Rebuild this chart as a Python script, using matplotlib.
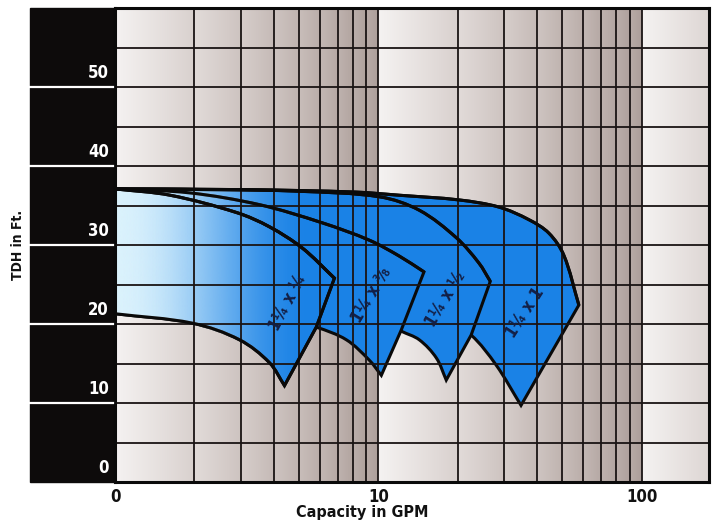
import numpy as np
import matplotlib
matplotlib.use('Agg')
import matplotlib.pyplot as plt
from matplotlib.path import Path
from matplotlib.patches import PathPatch, Rectangle
from matplotlib.lines import Line2D
from matplotlib.ticker import LogLocator, MultipleLocator, NullFormatter
from matplotlib.transforms import blended_transform_factory

# pump models, left to right
models = ['1¼ x ¼', '1¼ x ⅜', '1¼ x ½', '1¼ x 1']

# max impeller curves: capacity (GPM) and head (ft), shutoff -> run-out tip
upper_gpm = [
    [1, 1.62, 2.90, 3.86, 5.15, 6.81],
    [1, 1.92, 3.54, 6.13, 9.25, 12.0, 14.9],
    [1, 2.4, 5.02, 10.1, 14.3, 19.8, 24.1, 26.6],
    [1, 3.25, 8.18, 12.0, 20.3, 28.7, 37.3, 44.4, 50.6, 57.7],
]
upper_ft = [
    [37.1, 36.3, 34.1, 32.3, 29.6, 25.8],
    [37.1, 36.6, 35.1, 32.8, 30.6, 28.6, 26.6],
    [37.1, 37.0, 36.8, 36.1, 34.4, 30.9, 27.7, 25.4],
    [37.1, 37.0, 36.7, 36.3, 35.7, 34.8, 33.2, 31.5, 28.7, 22.4],
]
# kink on the end-of-curve line (None = straight)
kink_gpm = [5.81, 12.2, 22.5, None]
kink_ft = [19.6, 19.2, 18.6, None]
# min impeller curves: bottom point back to shutoff
lower_gpm = [
    [4.40, 3.86, 2.97, 1.97, 1],
    [10.26, 9.25, 7.56, 5.81, 3.25, 1],
    [18.1, 16.6, 14.3, 12.2, 8.5, 3.25, 1],
    [34.8, 28.0, 22.5, 15.6, 5.0, 1],
]
lower_ft = [
    [12.2, 15.1, 18.0, 20.1, 21.3],
    [13.5, 15.4, 18.0, 19.6, 22.0, 23.3],
    [12.9, 15.7, 18.0, 19.1, 21.8, 24.1, 25.3],
    [9.7, 14.8, 18.6, 22.4, 26.2, 27.8],
]
# model label positions / angles
label_gpm = [4.52, 9.41, 17.9, 36.0]
label_ft = [22.7, 23.7, 23.2, 21.4]
label_rot = [62, 59, 59, 57]

y_ticks = [0, 10, 20, 30, 40, 50]
x_ticks = [1, 10, 100]
x_ticklabels = ['0', '10', '100']
X_MAX = 180

BLUE = '#1a82e6'
PX_DEC, PX_FT = 264.0, 7.9


def to_px(xs, ys):
    return np.column_stack([np.log10(xs) * PX_DEC, np.asarray(ys, float) * PX_FT])


def from_px(p):
    return np.column_stack([10 ** (p[:, 0] / PX_DEC), p[:, 1] / PX_FT])


def smooth(xs, ys):
    # bezier pieces through the read points (tangent from neighbours)
    p = to_px(xs, ys)
    n = len(p)
    tang = np.zeros_like(p)
    for i in range(n):
        d = p[min(i + 1, n - 1)] - p[max(i - 1, 0)]
        tang[i] = d / np.hypot(*d)
    verts = []
    for i in range(n - 1):
        seg = np.hypot(*(p[i + 1] - p[i])) / 3
        verts += [p[i] + tang[i] * seg, p[i + 1] - tang[i + 1] * seg, p[i + 1]]
    return from_px(np.array(verts))


def curve_path(xs, ys):
    v = np.vstack([[xs[0], ys[0]], smooth(xs, ys)])
    codes = [Path.MOVETO] + [Path.CURVE4] * (len(v) - 1)
    return Path(v, codes)


def region_path(i):
    up = smooth(upper_gpm[i], upper_ft[i])
    lo = smooth(lower_gpm[i], lower_ft[i])
    verts = [[upper_gpm[i][0], upper_ft[i][0]]]
    codes = [Path.MOVETO]
    verts += list(up)
    codes += [Path.CURVE4] * len(up)
    if kink_gpm[i] is not None:
        verts.append([kink_gpm[i], kink_ft[i]])
        codes.append(Path.LINETO)
    verts.append([lower_gpm[i][0], lower_ft[i][0]])
    codes.append(Path.LINETO)
    verts += list(lo)
    codes += [Path.CURVE4] * len(lo)
    verts.append(verts[0])
    codes.append(Path.CLOSEPOLY)
    return Path(np.array(verts), codes)


fig = plt.figure(figsize=(7.16, 5.27), dpi=100)
ax = fig.add_axes([115 / 716, 45 / 527, 594 / 716, 474 / 527])
ax.set_xscale('log')
ax.set_xlim(1, X_MAX)
ax.set_ylim(0, 60)
ax.set_autoscale_on(False)

# shaded paper background
N = 1400
f = (np.arange(N) + 0.5) / N
lx = f * np.log10(X_MAX)
u = lx % 1
m = 10 ** u
t = m - np.floor(m)
v = 0.96 - 0.25 * u - 0.035 * t
bg = np.stack([v, v * (1 - 0.25 * (1 - v)), v * (1 - 0.33 * (1 - v))], -1)[None]
ax.imshow(bg, extent=(0, 1, 0, 1), transform=ax.transAxes, aspect='auto',
          interpolation='nearest', zorder=0)

# blue regions, back to front
for i in range(len(models) - 1, -1, -1):
    ax.add_patch(PathPatch(region_path(i), facecolor=BLUE, edgecolor='#0a0a0a',
                           lw=2.2, zorder=1 + (3 - i) * 0.1))

# light gradient over the left of the chart
clip_v = [[1, upper_ft[3][0]], [upper_gpm[0][-1], 36.9]]
clip_v += [[upper_gpm[0][-1], upper_ft[0][-1]], [kink_gpm[0], kink_ft[0]]]
clip_v += list(zip(lower_gpm[0], lower_ft[0]))
clip_patch = PathPatch(Path(np.array(clip_v + [clip_v[0]]), closed=True),
                       transform=ax.transData)
px = f * 594
alpha = np.where(px < 200, 0.5 * (1 + np.cos(np.pi * np.minimum(px, 200) / 200)), 0)
light = matplotlib.colors.to_rgb('#dcf3fd')
grad = np.zeros((1, N, 4))
grad[..., :3] = light
grad[..., 3] = alpha
gi = ax.imshow(grad, extent=(0, 1, 0, 1), transform=ax.transAxes, aspect='auto',
               interpolation='bilinear', zorder=1.5)
gi.set_clip_path(clip_patch)

# outlines again on top of the gradient
ax.add_patch(PathPatch(region_path(0), facecolor='none', edgecolor='#0a0a0a',
                       lw=2.2, zorder=3))
for i in range(len(models)):
    ax.add_patch(PathPatch(curve_path(upper_gpm[i], upper_ft[i]), facecolor='none',
                           edgecolor='#0a0a0a', lw=2.2, zorder=3))

for i, name in enumerate(models):
    ax.text(label_gpm[i], label_ft[i], name, rotation=label_rot[i], ha='center',
            va='center', fontsize=12, fontweight='bold', color='#131f45', zorder=4,
            rotation_mode='anchor', fontstretch='condensed')

# grid
ax.xaxis.set_major_locator(LogLocator(base=10))
ax.xaxis.set_minor_locator(LogLocator(base=10, subs=range(2, 10)))
ax.xaxis.set_minor_formatter(NullFormatter())
ax.yaxis.set_major_locator(MultipleLocator(5))
ax.set_axisbelow(False)
ax.grid(which='both', axis='x', color='#1a1414', lw=1.3)
ax.grid(which='major', axis='y', color='#1a1414', lw=1.3)
ax.tick_params(which='both', length=0, labelbottom=False, labelleft=False)
for s in ax.spines.values():
    s.set_color('#0a0a0a')
    s.set_linewidth(2.2)
    s.set_zorder(5)

# black label band on the left
fig.add_artist(Rectangle((30 / 716, 45 / 527), 86 / 716, 474 / 527,
                         transform=fig.transFigure, color='#0d0b0b', zorder=0))
band = blended_transform_factory(fig.transFigure, ax.transData)
for val in y_ticks[1:]:
    fig.add_artist(Line2D([30 / 716, 113 / 716], [val, val], transform=band,
                          color='white', lw=1.6, zorder=1))
txt = dict(fontweight='bold', family='DejaVu Sans', fontstretch='condensed')
for val in y_ticks:
    ax.text(109 / 716, val + 0.6, str(val), transform=band, ha='right', va='bottom',
            color='white', fontsize=12, **txt)

xt = blended_transform_factory(ax.transData, fig.transFigure)
for val, lab in zip(x_ticks, x_ticklabels):
    ax.text(val, 30 / 527, lab, transform=xt, ha='center', va='center',
            fontsize=12, color='#111111', **txt)
fig.text(362 / 716, 14 / 527, 'Capacity in GPM', ha='center', va='center',
         fontsize=11.5, color='#111111', **txt)
fig.text(18 / 716, 282 / 527, 'TDH in Ft.', rotation=90, ha='center', va='center',
         fontsize=10, color='#111111', **txt)

fig.savefig('out.png', dpi=100)
